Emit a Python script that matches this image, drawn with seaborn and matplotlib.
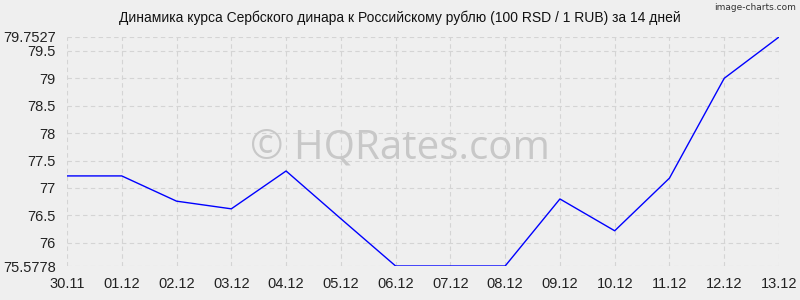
import matplotlib
matplotlib.use("Agg")
import matplotlib.pyplot as plt
import seaborn as sns
import pandas as pd

dates = ["30.11", "01.12", "02.12", "03.12", "04.12", "05.12", "06.12",
         "07.12", "08.12", "09.12", "10.12", "11.12", "12.12", "13.12"]
rates = [77.22, 77.22, 76.76, 76.62, 77.31, 76.44, 75.5778,
         75.5778, 75.5778, 76.80, 76.22, 77.18, 79.00, 79.7527]
yticks = [75.5778, 76, 76.5, 77, 77.5, 78, 78.5, 79, 79.5, 79.7527]
ylabels = ["75.5778", "76", "76.5", "77", "77.5", "78", "78.5", "79", "79.5", "79.7527"]
title = "Динамика курса Сербского динара к Российскому рублю (100 RSD / 1 RUB) за 14 дней"

sns.set_theme(style="white")
plt.rcParams['font.family'] = ['Liberation Sans', 'DejaVu Sans']

df = pd.DataFrame({"idx": range(len(dates)), "rate": rates})

fig = plt.figure(figsize=(8, 3), dpi=100, facecolor="#efefef")
ax = fig.add_axes([67/800, 1-266/300, (779-67)/800, (266-37)/300])
ax.set_facecolor("#efefef")

sns.lineplot(data=df, x="idx", y="rate", ax=ax, color="#0000ff", linewidth=1.0)

ax.set_xlim(0, len(dates)-1)
ax.set_ylim(75.5778, 79.7527)
ax.set_xticks(range(len(dates)))
ax.set_xticklabels(dates, fontsize=10.5, color="#222222")
ax.set_yticks(yticks)
ax.set_yticklabels(ylabels, fontsize=10.5, color="#222222")
ax.grid(True, color="#d4d4d4", linestyle=(0, (4, 3)), linewidth=0.8)
for s in ax.spines.values():
    s.set_visible(False)
ax.tick_params(axis="both", length=4, color="#d4d4d4", pad=4)
ax.set_xlabel("")
ax.set_ylabel("")

fig.text(0.5, 1-18/300, title, ha="center", va="center", fontsize=10, color="#111111")
fig.text(0.995, 1-8/300, "image-charts.com", ha="right", va="center", fontsize=6.5,
         color="#333333", family=["DejaVu Sans", "Liberation Sans"])
fig.text(400/800, 1-148/300, "© HQRates.com", ha="center", va="center", fontsize=29,
         color="#c8c8c8", family=["Open Sans", "DejaVu Sans"])

fig.savefig("out.png", dpi=100, facecolor=fig.get_facecolor())
